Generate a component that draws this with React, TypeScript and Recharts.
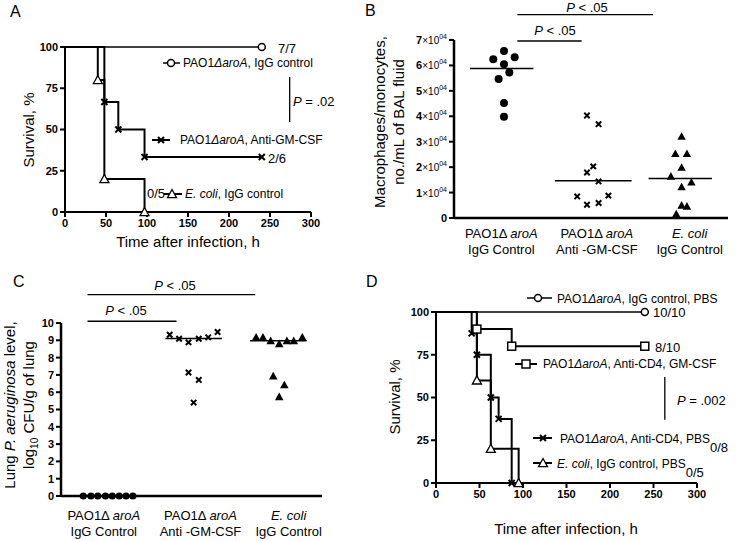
import React from 'react';
import { LineChart, Line, ScatterChart, Scatter, XAxis, YAxis, ReferenceLine } from 'recharts';

const FONT = '"Liberation Sans", Arial, Helvetica, sans-serif';

// survival panels (A, D): time in h, survival in %
const kmTicksX = [0, 50, 100, 150, 200, 250, 300];
const kmTicksY = [0, 25, 50, 75, 100];

const aIgGTime = [0, 240];
const aIgGSurv = [100, 100];
const aAntiTime = [0, 48, 65, 97, 240];
const aAntiSurv = [100, 66.7, 50, 33.3, 33.3];
const aEcoliTime = [0, 40, 48, 97];
const aEcoliSurv = [100, 80, 20, 0];

const dIgGTime = [0, 240];
const dIgGSurv = [100, 100];
const dCd4GmTime = [0, 47, 87, 240];
const dCd4GmSurv = [100, 90, 80, 80];
const dCd4PbsTime = [0, 41, 47, 63, 72, 87];
const dCd4PbsSurv = [100, 87.5, 75, 50, 37.5, 0];
const dEcoliTime = [0, 47, 63, 95];
const dEcoliSurv = [100, 60, 20, 0];

// group labels (B, C)
const catPrefix = ['PAO1\u0394 ', 'PAO1\u0394 ', ''];
const catItalic = ['aroA', 'aroA', 'E. coli'];
const catBottom = ['IgG Control', 'Anti -GM-CSF', 'IgG Control'];

// B: macrophages/monocytes per mL BAL fluid (x = group + jitter)
const bTicksY = [0, 10000, 20000, 30000, 40000, 50000, 60000, 70000];
const bLabelPos = [1.0, 2.07, 3.11];
const bIgGX = [0.91, 1.03, 1.15, 1.03, 1.09, 0.97, 1.03, 1.03];
const bIgGY = [62400, 65700, 63200, 60500, 57200, 54700, 45200, 39800];
const bAntiX = [1.96, 2.09, 2.03, 1.96, 2.09, 1.85, 1.96, 2.09, 2.2];
const bAntiY = [40300, 36900, 20300, 17900, 14400, 8500, 5200, 5900, 8800];
const bEcoliX = [3.02, 2.95, 3.08, 3.02, 2.9, 3.13, 3.02, 3.02, 3.08, 2.96];
const bEcoliY = [32100, 25300, 25300, 19900, 16400, 14100, 12200, 5000, 4600, 1600];
const bMedians = [58800, 14600, 15500];
const bMedianSpan = [[0.65, 1.36], [1.6, 2.46], [2.65, 3.36]];

// C: lung P. aeruginosa, log10 CFU/g
const cTicksY = [0, 1, 2, 3, 4, 5, 6, 7, 8, 9, 10];
const cLabelPos = [0.95, 2.08, 3.11];
const cIgGX = [0.71, 0.8, 0.88, 0.97, 1.05, 1.13, 1.21, 1.29];
const cIgGY = [0, 0, 0, 0, 0, 0, 0, 0];
const cAntiX = [1.72, 1.83, 1.94, 2.06, 2.17, 2.28, 1.94, 2.06, 2.0];
const cAntiY = [9.32, 9.09, 8.88, 9.09, 9.17, 9.48, 7.14, 6.71, 5.4];
const cEcoliX = [2.73, 2.81, 2.9, 3.0, 3.09, 3.17, 3.27, 2.93, 3.06, 3.0];
const cEcoliY = [9.17, 9.17, 8.97, 8.8, 8.97, 8.97, 9.17, 6.94, 6.42, 5.74];
const cMedians = [0, 9.1, 8.97];
const cMedianSpan = [[0.7, 1.3], [1.67, 2.33], [2.66, 3.32]];

const kmData = (time: number[], surv: number[]) => time.map((t, i) => ({ t, s: surv[i] }));
const pts = (xs: number[], ys: number[]) => xs.map((x, i) => ({ x, y: ys[i] }));

const axisLine = { stroke: '#000', strokeWidth: 2 };
const tickLine = { stroke: '#000', strokeWidth: 2 };
const boldTick = { fill: '#000', fontSize: 11, fontWeight: 700, fontFamily: FONT };

const OpenCircle = ({ cx, cy }: any) => <circle cx={cx} cy={cy} r={3.5} fill="#fff" stroke="#000" strokeWidth={1.5} />;
const DotCircle = ({ cx, cy, r = 4 }: any) => <circle cx={cx} cy={cy} r={r} fill="#000" />;
const Cross = ({ cx, cy, s = 3 }: any) => (
  <path d={`M${cx - s},${cy - s}L${cx + s},${cy + s}M${cx - s},${cy + s}L${cx + s},${cy - s}`} stroke="#000" strokeWidth={2} fill="none" />
);
const OpenTri = ({ cx, cy, s = 4.5 }: any) => (
  <path d={`M${cx},${cy - s}L${cx + s},${cy + s * 0.8}L${cx - s},${cy + s * 0.8}Z`} fill="#fff" stroke="#000" strokeWidth={1.3} />
);
const FillTri = ({ cx, cy, s = 4 }: any) => (
  <path d={`M${cx},${cy - s}L${cx + s},${cy + s * 0.8}L${cx - s},${cy + s * 0.8}Z`} fill="#000" />
);
const OpenSquare = ({ cx, cy, s = 4 }: any) => (
  <rect x={cx - s} y={cy - s} width={2 * s} height={2 * s} fill="#fff" stroke="#000" strokeWidth={1.5} />
);

// markers on event times only, not on the starting point
const eventDots = (Marker: any) => (p: any) =>
  p.index === 0 ? <g key={`e${p.index}`} /> : <Marker key={`m${p.index}`} cx={p.cx} cy={p.cy} />;

const CatTick = ({ x, y, index, dy1, dy2 }: any) => (
  <g fontFamily={FONT} fontSize={13} fill="#000">
    <text x={x} y={y + dy1} textAnchor="middle">
      {catPrefix[index]}
      <tspan fontStyle="italic">{catItalic[index]}</tspan>
    </text>
    <text x={x} y={y + dy2} textAnchor="middle">{catBottom[index]}</text>
  </g>
);

const SciTick = ({ x, y, payload }: any) => {
  const v = payload.value;
  if (v === 0) {
    return <text x={x} y={y} dy={4} textAnchor="end" fontFamily={FONT} fontSize={11} fontWeight={700}>0</text>;
  }
  return (
    <text x={x} y={y} dy={4} textAnchor="end" fontFamily={FONT} fill="#000">
      <tspan fontSize={11} fontWeight={700}>{v / 10000}</tspan>
      <tspan fontSize={10}>×10</tspan>
      <tspan fontSize={7} dy={-5}>04</tspan>
    </text>
  );
};

const I = ({ children }: any) => <tspan fontStyle="italic">{children}</tspan>;

function SurvivalA() {
  return (
    <LineChart width={370} height={270} margin={{ top: 47, right: 59, bottom: 28, left: 0 }}>
      <XAxis type="number" dataKey="t" domain={[0, 300]} ticks={kmTicksX} interval={0} height={30}
        axisLine={axisLine} tickLine={tickLine} tickSize={5} tick={boldTick} />
      <YAxis type="number" domain={[0, 100]} ticks={kmTicksY} interval={0} width={65}
        axisLine={axisLine} tickLine={tickLine} tickSize={5} tick={boldTick} />
      <ReferenceLine segment={[{ x: 274, y: 54.5 }, { x: 274, y: 81.8 }]} stroke="#000" strokeWidth={1.3} />
      <Line data={kmData(aEcoliTime, aEcoliSurv)} dataKey="s" type="stepAfter" stroke="#000" strokeWidth={2}
        dot={eventDots(OpenTri)} activeDot={false} isAnimationActive={false} />
      <Line data={kmData(aAntiTime, aAntiSurv)} dataKey="s" type="stepAfter" stroke="#000" strokeWidth={2}
        dot={eventDots(Cross)} activeDot={false} isAnimationActive={false} />
      <Line data={kmData(aIgGTime, aIgGSurv)} dataKey="s" type="stepAfter" stroke="#000" strokeWidth={1.5}
        dot={eventDots(OpenCircle)} activeDot={false} isAnimationActive={false} />
    </LineChart>
  );
}

function SurvivalD() {
  return (
    <LineChart width={371} height={271} margin={{ top: 42, right: 44, bottom: 28, left: 0 }}>
      <XAxis type="number" dataKey="t" domain={[0, 300]} ticks={kmTicksX} interval={0} height={30}
        axisLine={axisLine} tickLine={tickLine} tickSize={5} tick={boldTick} />
      <YAxis type="number" domain={[0, 100]} ticks={kmTicksY} interval={0} width={66}
        axisLine={axisLine} tickLine={tickLine} tickSize={5} tick={boldTick} />
      <ReferenceLine segment={[{ x: 263, y: 37 }, { x: 263, y: 62 }]} stroke="#000" strokeWidth={1.3} />
      <Line data={kmData(dEcoliTime, dEcoliSurv)} dataKey="s" type="stepAfter" stroke="#000" strokeWidth={2}
        dot={eventDots(OpenTri)} activeDot={false} isAnimationActive={false} />
      <Line data={kmData(dCd4PbsTime, dCd4PbsSurv)} dataKey="s" type="stepAfter" stroke="#000" strokeWidth={2}
        dot={eventDots(Cross)} activeDot={false} isAnimationActive={false} />
      <Line data={kmData(dCd4GmTime, dCd4GmSurv)} dataKey="s" type="stepAfter" stroke="#000" strokeWidth={2}
        dot={eventDots(OpenSquare)} activeDot={false} isAnimationActive={false} />
      <Line data={kmData(dIgGTime, dIgGSurv)} dataKey="s" type="stepAfter" stroke="#000" strokeWidth={1.5}
        dot={eventDots(OpenCircle)} activeDot={false} isAnimationActive={false} />
    </LineChart>
  );
}

function MacrophagesB() {
  return (
    <ScatterChart width={371} height={270} margin={{ top: 40, right: 13, bottom: 7, left: 0 }}>
      <XAxis type="number" dataKey="x" domain={[0.47, 3.54]} ticks={bLabelPos} interval={0} height={45}
        axisLine={{ stroke: '#000', strokeWidth: 2.5 }} tickLine={false} tickSize={0} tickMargin={0}
        tick={(p: any) => <CatTick {...p} dy1={20} dy2={36} />} />
      <YAxis type="number" dataKey="y" domain={[0, 70000]} ticks={bTicksY} interval={0} width={84}
        axisLine={{ stroke: '#000', strokeWidth: 2.5 }} tickLine={tickLine} tickSize={5} tick={(p: any) => <SciTick {...p} />} />
      <Scatter data={pts(bIgGX, bIgGY)} shape={(p: any) => <DotCircle cx={p.cx} cy={p.cy} r={4} />} isAnimationActive={false} />
      <Scatter data={pts(bAntiX, bAntiY)} shape={(p: any) => <Cross cx={p.cx} cy={p.cy} s={2.7} />} isAnimationActive={false} />
      <Scatter data={pts(bEcoliX, bEcoliY)} shape={(p: any) => <FillTri cx={p.cx} cy={p.cy} s={4.2} />} isAnimationActive={false} />
      {bMedians.map((m, i) => (
        <ReferenceLine key={`bm${i}`} segment={[{ x: bMedianSpan[i][0], y: m }, { x: bMedianSpan[i][1], y: m }]}
          stroke="#000" strokeWidth={1.5} />
      ))}
      <ReferenceLine segment={[{ x: 1.18, y: 69600 }, { x: 1.9, y: 69600 }]} stroke="#000" strokeWidth={1.3} ifOverflow="visible" />
      <ReferenceLine segment={[{ x: 1.18, y: 80000 }, { x: 2.7, y: 80000 }]} stroke="#000" strokeWidth={1.3} ifOverflow="visible" />
    </ScatterChart>
  );
}

function LungC() {
  return (
    <ScatterChart width={370} height={271} margin={{ top: 53, right: 48, bottom: 5, left: 0 }}>
      <XAxis type="number" dataKey="x" domain={[0.45, 3.5]} ticks={cLabelPos} interval={0} height={40}
        axisLine={{ stroke: '#000', strokeWidth: 2.5 }} tickLine={false} tickSize={0} tickMargin={0}
        tick={(p: any) => <CatTick {...p} dy1={24} dy2={40} />} />
      <YAxis type="number" dataKey="y" domain={[0, 10]} ticks={cTicksY} interval={0} width={61}
        axisLine={{ stroke: '#000', strokeWidth: 2.5 }} tickLine={tickLine} tickSize={5} tick={boldTick} />
      {cMedians.map((m, i) => (
        <ReferenceLine key={`cm${i}`} segment={[{ x: cMedianSpan[i][0], y: m }, { x: cMedianSpan[i][1], y: m }]}
          stroke="#000" strokeWidth={1.5} />
      ))}
      <Scatter data={pts(cIgGX, cIgGY)} shape={(p: any) => <DotCircle cx={p.cx} cy={p.cy} r={3.6} />} isAnimationActive={false} />
      <Scatter data={pts(cAntiX, cAntiY)} shape={(p: any) => <Cross cx={p.cx} cy={p.cy} s={2.7} />} isAnimationActive={false} />
      <Scatter data={pts(cEcoliX, cEcoliY)} shape={(p: any) => <FillTri cx={p.cx} cy={p.cy} s={4.3} />} isAnimationActive={false} />
      <ReferenceLine segment={[{ x: 0.76, y: 10.1 }, { x: 1.8, y: 10.1 }]} stroke="#000" strokeWidth={1.3} ifOverflow="visible" />
      <ReferenceLine segment={[{ x: 0.76, y: 11.64 }, { x: 2.72, y: 11.64 }]} stroke="#000" strokeWidth={1.3} ifOverflow="visible" />
    </ScatterChart>
  );
}

function Overlay() {
  return (
    <svg width={741} height={541} style={{ position: 'absolute', left: 0, top: 0, pointerEvents: 'none' }}
      fontFamily={FONT} fill="#000">
      {/* panel letters */}
      <text x={10} y={17} fontSize={16}>A</text>
      <text x={365} y={16} fontSize={16}>B</text>
      <text x={13} y={287} fontSize={16}>C</text>
      <text x={366} y={287} fontSize={16}>D</text>

      {/* A */}
      <text x={34} y={130} fontSize={15} textAnchor="middle" transform="rotate(-90 34 130)">Survival, %</text>
      <text x={188} y={247} fontSize={15} textAnchor="middle">Time after infection, h</text>
      <text x={278} y={53} fontSize={13}>7/7</text>
      <line x1={163} x2={180} y1={63} y2={63} stroke="#000" strokeWidth={1.5} />
      <OpenCircle cx={171} cy={63} />
      <text x={183} y={67} fontSize={12}>PAO1<I>ΔaroA</I>, IgG control</text>
      <text x={293} y={106} fontSize={13}><I>P</I> = .02</text>
      <line x1={152} x2={170} y1={140} y2={140} stroke="#000" strokeWidth={2} />
      <Cross cx={161} cy={140} />
      <text x={180} y={144} fontSize={12}>PAO1<I>ΔaroA</I>, Anti-GM-CSF</text>
      <text x={268} y={163} fontSize={13}>2/6</text>
      <text x={147} y={198} fontSize={13}>0/5</text>
      <line x1={164} x2={182} y1={194} y2={194} stroke="#000" strokeWidth={2} />
      <OpenTri cx={172} cy={194} />
      <text x={185} y={198} fontSize={12}><I>E. coli</I>, IgG control</text>

      {/* B */}
      <text x={587} y={12} fontSize={13} textAnchor="middle"><I>P</I> &lt; .05</text>
      <text x={555} y={35} fontSize={13} textAnchor="middle"><I>P</I> &lt; .05</text>
      <text x={385} y={122} fontSize={15} textAnchor="middle" transform="rotate(-90 385 122)">Macrophages/monocytes,</text>
      <text x={404} y={122} fontSize={15} textAnchor="middle" transform="rotate(-90 404 122)">no./mL of BAL fluid</text>

      {/* C */}
      <text x={175} y={290} fontSize={13} textAnchor="middle"><I>P</I> &lt; .05</text>
      <text x={126} y={315} fontSize={13} textAnchor="middle"><I>P</I> &lt; .05</text>
      <text x={15} y={405} fontSize={15} textAnchor="middle" transform="rotate(-90 15 405)">Lung <I>P. aeruginosa</I> level,</text>
      <text x={34} y={405} fontSize={15} textAnchor="middle" transform="rotate(-90 34 405)">
        log<tspan fontSize={10} dy={4}>10</tspan><tspan dy={-4}> CFU/g of lung</tspan>
      </text>

      {/* D */}
      <text x={400} y={397} fontSize={15} textAnchor="middle" transform="rotate(-90 400 397)">Survival, %</text>
      <text x={566} y={534} fontSize={15} textAnchor="middle">Time after infection, h</text>
      <line x1={527} x2={552} y1={298} y2={298} stroke="#000" strokeWidth={1.5} />
      <OpenCircle cx={538} cy={298} />
      <text x={557} y={303} fontSize={12}>PAO1<I>ΔaroA</I>, IgG control, PBS</text>
      <text x={653} y={317} fontSize={13}>10/10</text>
      <text x={655} y={352} fontSize={13}>8/10</text>
      <line x1={515} x2={537} y1={364} y2={364} stroke="#000" strokeWidth={2} />
      <OpenSquare cx={526} cy={364} />
      <text x={543} y={368} fontSize={12}>PAO1<I>ΔaroA</I>, Anti-CD4, GM-CSF</text>
      <text x={677} y={405} fontSize={13}><I>P</I> = .002</text>
      <line x1={533} x2={552} y1={438} y2={438} stroke="#000" strokeWidth={2} />
      <Cross cx={543} cy={438} />
      <text x={560} y={443} fontSize={12}>PAO1<I>ΔaroA</I>, Anti-CD4, PBS<tspan fontSize={13} dy={9}>0/8</tspan></text>
      <line x1={533} x2={552} y1={463} y2={463} stroke="#000" strokeWidth={2} />
      <OpenTri cx={543} cy={463} />
      <text x={557} y={468} fontSize={12}><I>E. coli</I>, IgG control, PBS<tspan fontSize={13} dy={9}>0/5</tspan></text>
    </svg>
  );
}

export default function App() {
  return (
    <div style={{ position: 'absolute', left: 0, top: 0, width: 741, height: 541, background: '#fff', fontFamily: FONT }}>
      <div style={{ position: 'absolute', left: 0, top: 0 }}><SurvivalA /></div>
      <div style={{ position: 'absolute', left: 370, top: 0 }}><MacrophagesB /></div>
      <div style={{ position: 'absolute', left: 0, top: 270 }}><LungC /></div>
      <div style={{ position: 'absolute', left: 370, top: 270 }}><SurvivalD /></div>
      <Overlay />
    </div>
  );
}
